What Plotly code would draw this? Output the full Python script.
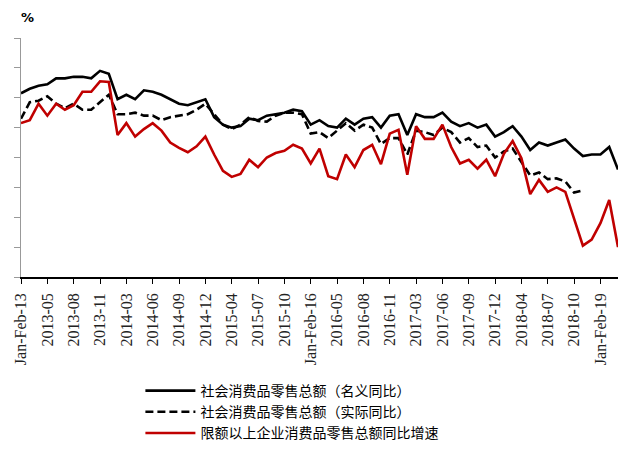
import plotly.graph_objects as go

# Month categories (Jan-Feb combined each year)
categories = []
for yr in range(2013, 2020):
    categories.append(f"Jan-Feb-{str(yr)[2:]}")
    for m in range(3, 13):
        categories.append(f"{yr}-{m:02d}")
categories = categories[:69]  # through 2019-04

nominal = [
    12.3, 12.6, 12.8, 12.9, 13.3, 13.3, 13.4, 13.4, 13.3, 13.8, 13.6,
    11.9, 12.2, 11.9, 12.5, 12.4, 12.2, 11.9, 11.6, 11.5, 11.7, 11.9,
    10.7, 10.2, 10.0, 10.1, 10.6, 10.5, 10.8, 10.9, 11.0, 11.2, 11.1,
    10.2, 10.5, 10.1, 10.0, 10.6, 10.2, 10.6, 10.7, 10.0, 10.8, 10.9,
    9.5, 10.9, 10.7, 10.7, 11.0, 10.4, 10.1, 10.3, 10.0, 10.2, 9.4,
    9.7, 10.1, 9.4, 8.5, 9.0, 8.8, 9.0, 9.2, 8.6, 8.1, 8.2,
    8.2, 8.7, 7.2,
]

real = [
    10.6, 11.7, 11.8, 12.1, 11.6, 11.3, 11.6, 11.2, 11.2, 11.7, 12.2,
    10.9, 10.9, 11.0, 10.8, 10.8, 10.5, 10.7, 10.8, 10.9, 11.2, 11.6,
    10.9, 10.2, 9.9, 10.2, 10.7, 10.45, 10.4, 10.8, 11.0, 11.0, 10.9,
    9.6, 9.7, 9.3, 9.8, 10.3, 9.8, 10.2, 10.0, 8.9, 9.3, 9.3,
    8.2, 9.8, 9.7, 9.5, 10.0, 9.7, 9.0, 9.3, 8.7, 8.8, 8.0,
    8.4, 8.6, 7.7, 6.8, 7.0, 6.55, 6.6, 6.4, 5.65, 5.8,
    None, None, None, None,
]

above_quota = [
    10.3, 10.5, 11.6, 10.8, 11.6, 11.2, 11.5, 12.4, 12.4, 13.1, 13.05,
    9.5, 10.3, 9.4, 9.9, 10.3, 9.8, 9.0, 8.65, 8.35, 8.75, 9.4,
    8.2, 7.1, 6.7, 6.9, 7.85, 7.35, 8.0, 8.3, 8.45, 8.85, 8.6,
    7.6, 8.6, 6.75, 6.55, 8.2, 7.35, 8.5, 8.85, 7.55, 9.6, 9.85,
    6.85, 10.1, 9.25, 9.25, 10.2, 8.7, 7.6, 7.85, 7.25, 7.85, 6.75,
    8.25, 9.1, 7.95, 5.55, 6.5, 5.7, 6.0, 5.7, 3.95, 2.1, 2.5,
    3.6, 5.15, 2.0,
]

names = [
    "社会消费品零售总额（名义同比）",
    "社会消费品零售总额（实际同比）",
    "限额以上企业消费品零售总额同比增速",
]

tick_labels = categories[::3]
y_ticks = [0, 2, 4, 6, 8, 10, 12, 14, 16]

fig = go.Figure()
fig.add_trace(go.Scatter(x=categories, y=nominal, mode="lines", name=names[0],
                         line=dict(color="#000000", width=2.6)))
fig.add_trace(go.Scatter(x=categories, y=real, mode="lines", name=names[1],
                         line=dict(color="#000000", width=2.6, dash="8px,4px")))
fig.add_trace(go.Scatter(x=categories, y=above_quota, mode="lines", name=names[2],
                         line=dict(color="#C00000", width=2.6)))

fig.update_layout(
    width=627, height=453,
    margin=dict(l=13, r=17, t=30, b=177),
    paper_bgcolor="white", plot_bgcolor="white",
    showlegend=True,
    legend=dict(
        x=0.2, xanchor="left", y=-0.41, yanchor="top",
        orientation="v", bgcolor="rgba(0,0,0,0)",
        font=dict(family="Noto Sans CJK SC", size=14, color="#000000"),
        itemwidth=50, tracegroupgap=0,
    ),
    xaxis=dict(
        type="category", categoryorder="array", categoryarray=categories,
        range=[0, 68], tickmode="array", tickvals=tick_labels, ticktext=tick_labels,
        tickangle=-90, ticks="outside", ticklen=5, tickcolor="#000000",
        showline=True, linecolor="#000000", linewidth=1.5,
        showgrid=False, zeroline=False, automargin=False,
        ticklabelstandoff=3,
        tickfont=dict(family="Liberation Serif", size=16, color="#222222"),
    ),
    yaxis=dict(
        range=[0, 16], tickvals=y_ticks, ticks="outside", ticklen=6,
        tickcolor="#999999", showline=True, linecolor="#999999", linewidth=1.2,
        showgrid=False, zeroline=False, automargin=False,
        ticklabelstandoff=5,
        tickfont=dict(family="Liberation Serif", size=15, color="#333333"),
    ),
    annotations=[dict(
        text="<b>%</b>", xref="paper", yref="paper", x=0.0, y=1.0,
        xshift=-2, yshift=11, xanchor="left", yanchor="bottom", showarrow=False,
        font=dict(family="DejaVu Sans", size=13, color="#000000"),
    )],
)

fig.write_html("out.html")
